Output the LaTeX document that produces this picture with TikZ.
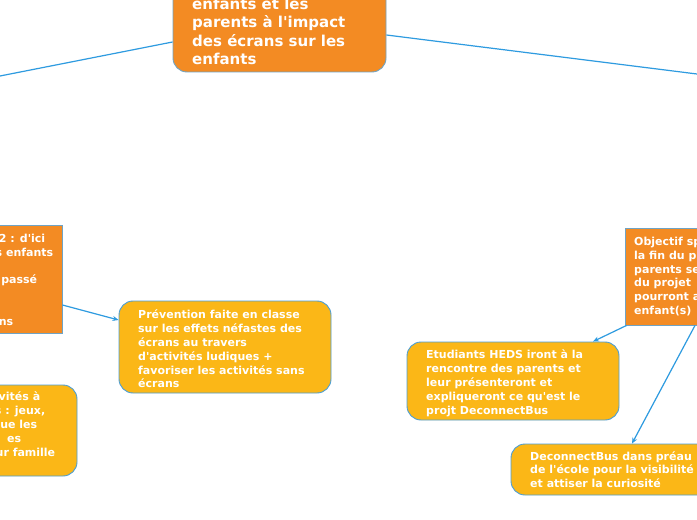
\documentclass[tikz,border=0pt]{standalone}
\usepackage{fontspec}
\setmainfont{DejaVu Sans}
\usetikzlibrary{arrows.meta}
\definecolor{orangeN}{HTML}{F38B23}
\definecolor{yellowN}{HTML}{FBB717}
\definecolor{lineB}{HTML}{2E9BE0}
\definecolor{borderO}{HTML}{6FA3C4}
\definecolor{borderY}{HTML}{4A9ED6}
\newcommand{\apos}{\textquotesingle}
\begin{document}
\begin{tikzpicture}[x=1bp,y=-1bp,
  obox/.style={draw=borderO,line width=0.9bp,fill=orangeN,inner sep=0},
  rbox/.style={draw=borderO,line width=0.9bp,fill=orangeN,inner sep=0,rounded corners=14bp},
  ybox/.style={draw=borderY,line width=0.9bp,fill=yellowN,inner sep=0,rounded corners=14bp},
  txt/.style={text=white,font=\bfseries\fontsize{11bp}{13.8bp}\selectfont,align=left,inner sep=0,anchor=north west},
  bigtxt/.style={text=white,font=\bfseries\fontsize{15bp}{18.3bp}\selectfont,align=left,inner sep=0,anchor=north west},
  conn/.style={draw=lineB,line width=1.2bp},
  arr/.style={conn,-{Stealth[length=6bp,width=5bp]}}]
\useasboundingbox (0,0) rectangle (697,520);
\clip (0,0) rectangle (697,520);
\fill[white] (0,0) rectangle (697,520);

% boxes
\node[rbox,minimum width=213bp,minimum height=142bp] (central) at (279.5,1) {};
\node[obox,minimum width=212bp,minimum height=108bp] (leftobj) at (-44,279) {};
\node[ybox,minimum width=212bp,minimum height=92bp] (prev) at (225,347) {};
\node[ybox,minimum width=217bp,minimum height=91bp] (leftact) at (-31.5,430.5) {};
\node[obox,minimum width=212bp,minimum height=97bp] (rightobj) at (731,276.5) {};
\node[ybox,minimum width=212bp,minimum height=78bp] (etud) at (513,381) {};
\node[ybox,minimum width=212bp,minimum height=51bp] (decon) at (617,469.5) {};

% free ends
\coordinate (offL) at (0,76);
\coordinate (offR) at (697,74);

% connectors
\draw[conn] ([yshift=-41bp]central.west) -- (offL);
\draw[conn] ([yshift=-34bp]central.east) -- (offR);
\draw[arr] ([yshift=-26bp]leftobj.east) -- ([yshift=27bp]prev.west);
\draw[arr] ([xshift=2bp]rightobj.south west) -- ([xshift=80bp]etud.north);
\draw[arr] ([xshift=-36bp]rightobj.south) -- ([xshift=15bp]decon.north);

% texts
\node[bigtxt] (tcentral) at (192,-2) {\rule{0pt}{11bp}enfants et les\\parents à l\apos impact\\des écrans sur les\\enfants};
\node[txt] (tleftobj) at (0,234) {\rule{0pt}{8bp}\makebox[45bp][r]{2 : d\apos ici}\\\makebox[53bp][r]{s enfants}\\\mbox{}\\\makebox[37bp][r]{passé}\\\mbox{}\\\mbox{}\\\makebox[13bp][r]{ns}};
\node[txt] (tprev) at (138,310) {\rule{0pt}{8bp}Prévention faite en classe\\sur les effets néfastes des\\écrans au travers\\d\apos activités ludiques +\\favoriser les activités sans\\écrans};
\node[txt] (tleftact) at (0,392) {\rule{0pt}{8bp}\makebox[40bp][r]{vités à}\\\makebox[45bp][r]{s : jeux,}\\\makebox[37bp][r]{ue les}\\\makebox[21bp][r]{es}\\\makebox[55bp][r]{ur famille}};
\node[txt] (trightobj) at (634,237) {\rule{0pt}{8bp}Objectif sp\\la fin du p\\parents se\\du projet\\pourront a\\enfant(s)};
\node[txt] (tetud) at (426,350) {\rule{0pt}{8bp}Etudiants HEDS iront à la\\rencontre des parents et\\leur présenteront et\\expliqueront ce qu\apos est le\\projt DeconnectBus};
\node[txt] (tdecon) at (530,451) {\rule{0pt}{8bp}DeconnectBus dans préau\\de l\apos école pour la visibilité\\et attiser la curiosité};
\end{tikzpicture}
\end{document}
